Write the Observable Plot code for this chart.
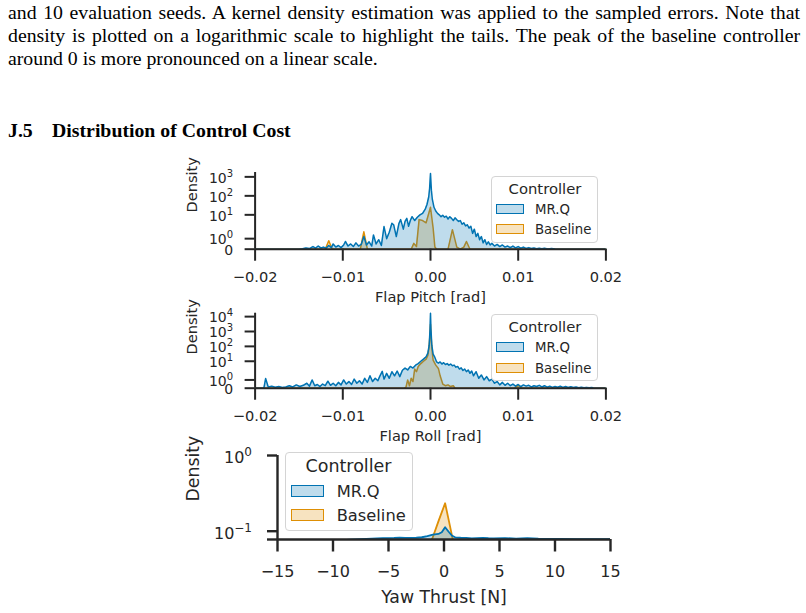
<!DOCTYPE html>
<html>
<head>
<meta charset="utf-8">
<script src="https://cdn.jsdelivr.net/npm/d3@7"></script>
<script src="https://cdn.jsdelivr.net/npm/@observablehq/plot@0.6"></script>
<style>
  html, body { margin: 0; padding: 0; background: #fff; }
  body { width: 806px; height: 613px; position: relative; overflow: hidden; }
  .para { position: absolute; left: 8px; width: 792px; font-family: "Liberation Serif", "Times New Roman", serif;
          font-size: 19.8px; line-height: 23.3px; color: #000; }
  .para .j { text-align: justify; text-align-last: justify; }
  .para .l { white-space: nowrap; }
  .head { position: absolute; left: 8px; font-family: "Liberation Serif", "Times New Roman", serif;
          font-size: 19.8px; line-height: 23.3px; font-weight: bold; white-space: nowrap; color: #000; }
  .panel { position: absolute; left: 0; }
  .legend { position: absolute; box-sizing: border-box; border: 1px solid #d4d4d4; border-radius: 4px;
            background: rgba(255,255,255,0.8); }
  .lg { position: absolute; font-family: "DejaVu Sans", sans-serif; color: #262626; white-space: nowrap;
        transform: translateY(-50%); }
  .sw { position: absolute; box-sizing: border-box; border-width: 1.5px; border-style: solid; }
</style>
</head>
<body>
<div class="para" style="top:0.5px">
  <div class="j">and 10 evaluation seeds. A kernel density estimation was applied to the sampled errors. Note that</div>
  <div class="j">density is plotted on a logarithmic scale to highlight the tails. The peak of the baseline controller</div>
  <div class="l">around 0 is more pronounced on a linear scale.</div>
</div>
<div class="head" style="top:119.2px"><span>J.5</span><span style="margin-left:19.3px">Distribution of Control Cost</span></div>

<div id="c1" class="panel" style="top:165px"></div>
<div id="c2" class="panel" style="top:305px"></div>
<div id="c3" class="panel" style="top:445px"></div>

<script>
// ---- series colours (seaborn colorblind palette) ----
const BLUE = "#0173B2";
const ORANGE = "#DE8F05";
const INK = "#262626";

const controllers = ["MR.Q", "Baseline"];

// ---- Flap Pitch [rad] : KDE density ----
const pitchMrqX = [-0.0200, -0.0150, -0.0146, -0.0142, -0.0138, -0.0134, -0.0131, -0.0128, -0.0125, -0.0122,
  -0.0119, -0.0116, -0.0113, -0.0111, -0.0108, -0.0105, -0.0102, -0.0099, -0.0097, -0.0094,
  -0.0091, -0.0088, -0.0085, -0.0082, -0.0079, -0.0076, -0.0073, -0.0070, -0.0067, -0.0065,
  -0.0062, -0.0059, -0.0056, -0.0053, -0.0050, -0.0047, -0.0044, -0.0042, -0.0039, -0.0036,
  -0.0034, -0.0031, -0.0029, -0.0027, -0.0025, -0.0023, -0.0021, -0.0018, -0.0015, -0.0012,
  -0.0009, -0.0006, -0.0004, -0.0002, -0.0001, 0, 0.0001, 0.0002, 0.0004, 0.0006,
  0.0008, 0.0010, 0.0012, 0.0014, 0.0016, 0.0018, 0.0020, 0.0022, 0.0024, 0.0026,
  0.0028, 0.0030, 0.0032, 0.0034, 0.0036, 0.0038, 0.0040, 0.0042, 0.0044, 0.0046,
  0.0048, 0.0050, 0.0052, 0.0054, 0.0056, 0.0058, 0.0060, 0.0062, 0.0064, 0.0066,
  0.0068, 0.0070, 0.0073, 0.0076, 0.0079, 0.0082, 0.0085, 0.0088, 0.0091, 0.0094,
  0.0097, 0.0100, 0.0103, 0.0106, 0.0109, 0.0112, 0.0115, 0.0118, 0.0121, 0.0124,
  0.0127, 0.0130, 0.0134, 0.0138, 0.0142, 0.0146, 0.0200];
const pitchMrqD = [0, 0, 0.05, 0.12, 0.06, 0.25, 0.1, 0.3, 0.12, 0.2,
  0.1, 0.35, 0.15, 0.5, 0.2, 0.35, 0.15, 0.4, 0.73, 0.3,
  0.5, 0.25, 0.6, 0.3, 0.45, 1.2, 0.4, 0.7, 0.3, 1.35,
  0.5, 0.9, 0.35, 2.4, 1.0, 1.6, 3.6, 3.0, 1.2, 3.5,
  5.6, 1.9, 4.5, 6.5, 2.5, 5.0, 8.0, 5.0, 7.5, 10,
  12, 20, 35, 90, 250, 1500, 200, 70, 25, 16,
  12, 10, 8, 9.5, 7.5, 8.5, 6, 8, 6.5, 5,
  7, 5.5, 4.5, 5, 3.2, 3.8, 2.6, 3.0, 2.0, 2.5,
  1.5, 1.9, 1.2, 1.5, 0.9, 1.2, 0.6, 0.9, 0.45, 0.7,
  0.4, 0.55, 0.3, 0.45, 0.25, 0.4, 0.2, 0.3, 0.15, 0.3,
  0.12, 0.25, 0.1, 0.2, 0.08, 0.15, 0.06, 0.12, 0.05, 0.1,
  0.04, 0.08, 0.03, 0.06, 0.02, 0, 0];
const pitchBaseX = [-0.0200, -0.0120, -0.0116, -0.0112, -0.0080, -0.0076, -0.0072, -0.0022, -0.0019, -0.0016,
  -0.0013, -0.0009, -0.0005, 0, 0.0003, 0.0005, 0.0007, 0.0020, 0.0025, 0.0030,
  0.0034, 0.0038, 0.0041, 0.0045, 0.0200];
const pitchBaseD = [0, 0, 0.8, 0, 0, 1.65, 0, 0, 0.55, 0.25,
  5.6, 5, 3.8, 25, 2, 0.2, 0, 0, 1.85, 0.2,
  0, 0.2, 0.73, 0, 0];

// ---- Flap Roll [rad] : KDE density ----
const rollMrqX = [-0.0200, -0.0190, -0.0188, -0.0185, -0.0181, -0.0177, -0.0173, -0.0169, -0.0165, -0.0161,
  -0.0157, -0.0153, -0.0149, -0.0145, -0.0141, -0.0138, -0.0135, -0.0132, -0.0129, -0.0126,
  -0.0123, -0.0120, -0.0117, -0.0114, -0.0111, -0.0108, -0.0105, -0.0102, -0.0099, -0.0096,
  -0.0093, -0.0090, -0.0087, -0.0084, -0.0081, -0.0078, -0.0075, -0.0072, -0.0069, -0.0066,
  -0.0063, -0.0060, -0.0058, -0.0055, -0.0053, -0.0050, -0.0047, -0.0044, -0.0041, -0.0038,
  -0.0035, -0.0032, -0.0029, -0.0026, -0.0023, -0.0020, -0.0017, -0.0014, -0.0011, -0.0008,
  -0.0005, -0.0003, -0.00015, -0.00005, 0, 0.00005, 0.00015, 0.0003, 0.0005, 0.0007,
  0.0009, 0.0011, 0.0013, 0.0015, 0.0017, 0.0019, 0.0021, 0.0023, 0.0025, 0.0027,
  0.0029, 0.0031, 0.0033, 0.0035, 0.0037, 0.0039, 0.0041, 0.0043, 0.0045, 0.0047,
  0.0049, 0.0052, 0.0055, 0.0058, 0.0061, 0.0064, 0.0067, 0.0070, 0.0073, 0.0076,
  0.0079, 0.0082, 0.0085, 0.0088, 0.0091, 0.0094, 0.0097, 0.0100, 0.0103, 0.0106,
  0.0109, 0.0112, 0.0115, 0.0118, 0.0121, 0.0124, 0.0127, 0.0130, 0.0133, 0.0136,
  0.0139, 0.0142, 0.0145, 0.0148, 0.0151, 0.0154, 0.0157, 0.0160, 0.0163, 0.0166,
  0.0169, 0.0172, 0.0175, 0.0178, 0.0181, 0.0184, 0.0186, 0.0200];
const rollMrqD = [0, 0, 1.17, 0.15, 0.25, 0.12, 0.2, 0.1, 0.15, 0.3,
  0.15, 0.4, 0.2, 0.35, 0.6, 0.25, 1.0, 0.3, 0.45, 0.2,
  0.5, 0.3, 0.85, 0.35, 0.6, 0.3, 0.7, 0.4, 1.0, 0.5,
  0.8, 0.45, 1.1, 0.6, 0.9, 0.5, 1.2, 0.7, 1.5, 0.8,
  1.2, 0.9, 1.4, 2.1, 1.1, 1.8, 1.2, 2.0, 1.5, 2.2,
  1.4, 2.5, 3.5, 2.6, 4.5, 3.5, 5.5, 7, 10, 14,
  20, 35, 120, 1500, 17000, 1500, 120, 30, 18, 9,
  7.5, 9, 6.5, 8, 6, 7, 5.5, 6.5, 5, 5.5,
  4, 4.5, 3, 3.6, 2.4, 3, 2, 2.6, 1.8, 2.2,
  1.5, 2.0, 1.2, 1.6, 1.0, 1.4, 0.9, 1.1, 0.6, 0.8,
  0.4, 0.7, 0.35, 0.6, 0.3, 0.5, 0.25, 0.45, 0.2, 0.4,
  0.25, 0.35, 0.15, 0.3, 0.2, 0.35, 0.15, 0.3, 0.12, 0.25,
  0.1, 0.2, 0.12, 0.25, 0.1, 0.2, 0.08, 0.18, 0.1, 0.15,
  0.06, 0.12, 0.05, 0.1, 0.05, 0.08, 0, 0];
const rollBaseX = [-0.0200, -0.0030, -0.0028, -0.0026, -0.0024, -0.0022, -0.0020, -0.0018, -0.0016, -0.0014,
  -0.0011, -0.0008, -0.0005, -0.0003, -0.00015, -0.00005, 0, 0.00005, 0.00015, 0.0003,
  0.0006, 0.0009, 0.0011, 0.0014, 0.0017, 0.0020, 0.0023, 0.0026, 0.0028, 0.0096,
  0.0100, 0.0104, 0.0200];
const rollBaseD = [0, 0, 0.1, 1.0, 0.3, 1.2, 0.8, 3.0, 2.0, 4.5,
  7, 10, 14, 25, 100, 800, 3000, 800, 80, 12,
  5.5, 3.3, 1.5, 0.5, 0.3, 0.4, 0.2, 0.3, 0, 0,
  0.35, 0, 0];

// ---- Yaw Thrust [N] : KDE density ----
const yawMrqX = [-15, -12, -10, -8.5, -7.5, -6.5, -5.5, -4.5, -4, -3.5,
  -2.5, -2, -1.5, -1, -0.5, -0.2, 0.1, 0.4, 0.7, 1,
  1.5, 2, 2.5, 3, 3.5, 4, 4.5, 5.5, 6.5, 7.5,
  8.5, 9.5, 10.5, 12, 13.5, 15];
const yawMrqD = [0.070, 0.073, 0.075, 0.0772, 0.0785, 0.0800, 0.0808, 0.0815, 0.0822, 0.0815,
  0.0820, 0.0832, 0.0860, 0.0900, 0.0920, 0.0970, 0.1130, 0.0990, 0.0880, 0.0830,
  0.0820, 0.0815, 0.0805, 0.0810, 0.0818, 0.0808, 0.0802, 0.0812, 0.0798, 0.0808,
  0.0795, 0.0792, 0.0790, 0.0788, 0.0786, 0.0784];
const yawBaseX = [-1.3, -1.05, -0.47, 0.1, 0.43, 0.77, 1.0];
const yawBaseD = [0.070, 0.080, 0.139, 0.234, 0.139, 0.080, 0.070];

// ---- axes ----
const errTicks = [-0.02, -0.01, 0, 0.01, 0.02];
const yawTicks = [-15, -10, -5, 0, 5, 10, 15];
// density tick labels written as mantissa + exponent
const pitchDensTicks = [0, 1, 10, 100, 1000];
const pitchDensBase = ["0", "10", "10", "10", "10"];
const pitchDensExp = ["", "0", "1", "2", "3"];
const rollDensTicks = [0, 1, 10, 100, 1000, 10000];
const rollDensBase = ["0", "10", "10", "10", "10", "10"];
const rollDensExp = ["", "0", "1", "2", "3", "4"];
const yawDensMin = 0.0777;
const yawDensTicks = [yawDensMin, 0.1, 1];
const yawDensBase = ["", "10", "10"];
const yawDensExp = ["", "−1", "0"];

// symmetric log (linear below 2, one decade per unit above it)
const linthresh = 2;
const linscaleAdj = 1 / (1 - 1 / 10);
function symlog(v) {
  const a = Math.abs(v);
  const t = a <= linthresh ? (a / linthresh) * linscaleAdj : linscaleAdj + Math.log10(a / linthresh);
  return Math.sign(v) * t;
}

const toRows = (xs, ds, f) => xs.map((x, i) => ({x, v: f(ds[i])}));

// approximate advance width of a DejaVu Sans string
const glyphW = (s, size) => Array.from(s).reduce((w, c) => w + (c === "−" ? 0.838 : 0.636), 0) * size;

// "10" plus raised exponent, right-aligned left of the y axis
function labelMarks(pos, base, exp, o) {
  const rows = pos.map((y, i) => ({y, base: base[i], exp: exp[i], shift: glyphW(exp[i], o.expSize)}));
  const marks = [];
  // mantissa: shifted left by its exponent's width (one mark per distinct shift)
  d3.group(rows, (d) => d.shift).forEach((group, shift) => {
    marks.push(Plot.text(group, {y: "y", text: "base", frameAnchor: "left", textAnchor: "end",
      dx: o.right - shift, dy: o.baseDy, fontSize: o.baseSize, fill: INK}));
  });
  marks.push(Plot.text(rows, {y: "y", text: "exp", frameAnchor: "left", textAnchor: "end",
    dx: o.right, dy: o.expDy, fontSize: o.expSize, fill: INK}));
  return marks;
}

function errPanel({el, mrqX, mrqD, baseX, baseD, yTop, dTicks, dBase, dExp, xLabel, height, marginTop, marginBottom, densDy}) {
  const mrq = toRows(mrqX, mrqD, symlog);
  const base = toRows(baseX, baseD, symlog);
  const tickPos = dTicks.map(symlog);
  const chart = Plot.plot({
    width: 806, height,
    marginLeft: 254.6, marginRight: 200.6, marginTop, marginBottom,
    style: {fontFamily: "DejaVu Sans, sans-serif", fontSize: "14.6px", color: INK, background: "transparent", overflow: "visible"},
    x: {domain: [-0.02, 0.02]},
    y: {domain: [0, yTop]},
    marks: [
      Plot.areaY(base, {x: "x", y1: 0, y2: "v", fill: ORANGE, fillOpacity: 0.25}),
      Plot.line(base, {x: "x", y: "v", stroke: ORANGE, strokeWidth: 1.5, strokeLinejoin: "round"}),
      Plot.areaY(mrq, {x: "x", y1: 0, y2: "v", fill: BLUE, fillOpacity: 0.25}),
      Plot.line(mrq, {x: "x", y: "v", stroke: BLUE, strokeWidth: 1.5, strokeLinejoin: "round"}),
      Plot.ruleY([0], {x1: -0.02, x2: 0.02, stroke: INK, strokeWidth: 2}),
      Plot.ruleX([-0.02], {y1: 0, y2: yTop, stroke: INK, strokeWidth: 2}),
      Plot.axisX({ticks: errTicks, tickFormat: d3.format(".2f"), tickSize: 12, tickPadding: 10.5, strokeWidth: 2, label: null}),
      Plot.axisY({ticks: tickPos, tickFormat: () => "", tickSize: 10, strokeWidth: 2, label: null}),
      ...labelMarks(tickPos, dBase, dExp, {right: -22, baseSize: 14, expSize: 10, baseDy: 1.2, expDy: -3.5}),
      Plot.text([xLabel], {text: (d) => d, frameAnchor: "bottom", dy: 52.5, fill: INK}),
      Plot.text(["Density"], {text: (d) => d, frameAnchor: "left", dx: -62.5, dy: densDy, rotate: -90, fill: INK})
    ]
  });
  document.getElementById(el).append(chart);
}

errPanel({el: "c1", mrqX: pitchMrqX, mrqD: pitchMrqD, baseX: pitchBaseX, baseD: pitchBaseD,
  yTop: 4.04, dTicks: pitchDensTicks, dBase: pitchDensBase, dExp: pitchDensExp, xLabel: "Flap Pitch [rad]",
  height: 140, marginTop: 7, marginBottom: 56.3, densDy: 1.7});
errPanel({el: "c2", mrqX: rollMrqX, mrqD: rollMrqD, baseX: rollBaseX, baseD: rollBaseD,
  yTop: 5.04, dTicks: rollDensTicks, dBase: rollDensBase, dExp: rollDensExp, xLabel: "Flap Roll [rad]",
  height: 140, marginTop: 7.7, marginBottom: 57.3, densDy: 3.8});

// Yaw thrust on a plain log density axis
{
  const floor = 0.01;
  const mrq = toRows(yawMrqX, yawMrqD, (d) => d);
  const base = toRows(yawBaseX, yawBaseD, (d) => d);
  const chart = Plot.plot({
    width: 806, height: 168,
    marginLeft: 277, marginRight: 196, marginTop: 10, marginBottom: 74,
    style: {fontFamily: "DejaVu Sans, sans-serif", fontSize: "16px", color: INK, background: "transparent", overflow: "visible"},
    x: {domain: [-15, 15]},
    y: {type: "log", domain: [yawDensMin, 1]},
    marks: [
      Plot.areaY(base, {x: "x", y1: floor, y2: "v", fill: ORANGE, fillOpacity: 0.25, clip: true}),
      Plot.line(base, {x: "x", y: "v", stroke: ORANGE, strokeWidth: 1.8, strokeLinejoin: "round", clip: true}),
      Plot.areaY(mrq, {x: "x", y1: floor, y2: "v", fill: BLUE, fillOpacity: 0.25, clip: true}),
      Plot.line(mrq, {x: "x", y: "v", stroke: BLUE, strokeWidth: 1.8, strokeLinejoin: "round", clip: true}),
      Plot.ruleY([yawDensMin], {x1: -15, x2: 15, stroke: INK, strokeWidth: 2.4}),
      Plot.ruleX([-15], {y1: yawDensMin, y2: 1, stroke: INK, strokeWidth: 2.4}),
      Plot.axisX({ticks: yawTicks, tickFormat: d3.format("d"), tickSize: 12.5, tickPadding: 14, strokeWidth: 2.4, label: null}),
      Plot.axisY({ticks: yawDensTicks, tickFormat: () => "", tickSize: 10, strokeWidth: 2.4, label: null}),
      ...labelMarks(yawDensTicks, yawDensBase, yawDensExp, {right: -25.5, baseSize: 16, expSize: 12, baseDy: 2.5, expDy: -3.5}),
      Plot.text(["Yaw Thrust [N]"], {text: (d) => d, frameAnchor: "bottom", dy: 63.5, fontSize: 17.3, fill: INK}),
      Plot.text(["Density"], {text: (d) => d, frameAnchor: "left", dx: -84.5, dy: 4, rotate: -90, fontSize: 17.3, fill: INK})
    ]
  });
  document.getElementById("c3").append(chart);
}

// ---- legends ----
function legend({left, top, width, height, titleX, titleY, rowY, swX, swW, swH, textX, titleSize, itemSize}) {
  const box = document.createElement("div");
  box.className = "legend";
  Object.assign(box.style, {left: left + "px", top: top + "px", width: width + "px", height: height + "px"});
  document.body.append(box);
  const title = document.createElement("div");
  title.className = "lg";
  title.textContent = "Controller";
  Object.assign(title.style, {left: titleX + "px", top: titleY + "px", fontSize: titleSize + "px",
    transform: "translate(-50%, -50%)"});
  document.body.append(title);
  const colors = [BLUE, ORANGE];
  controllers.forEach((name, i) => {
    const sw = document.createElement("div");
    sw.className = "sw";
    const c = d3.color(colors[i]);
    Object.assign(sw.style, {left: swX + "px", top: (rowY[i] - swH / 2) + "px", width: swW + "px", height: swH + "px",
      borderColor: colors[i], background: `rgba(${c.r},${c.g},${c.b},0.25)`});
    document.body.append(sw);
    const t = document.createElement("div");
    t.className = "lg";
    t.textContent = name;
    Object.assign(t.style, {left: textX + "px", top: rowY[i] + "px", fontSize: itemSize + "px"});
    document.body.append(t);
  });
}

legend({left: 490.7, top: 176, width: 107.6, height: 67.3, titleX: 545, titleY: 187.7, rowY: [208.7, 229.3],
  swX: 496, swW: 28, swH: 10, textX: 535, titleSize: 14.8, itemSize: 13.3});
legend({left: 490.7, top: 314, width: 107.6, height: 66.7, titleX: 545, titleY: 326.3, rowY: [347.3, 368],
  swX: 496, swW: 28, swH: 10, textX: 535, titleSize: 14.8, itemSize: 13.3});
legend({left: 285, top: 451.7, width: 127.7, height: 79, titleX: 348.5, titleY: 466, rowY: [491, 515],
  swX: 290.7, swW: 33.3, swH: 11.7, textX: 336.7, titleSize: 17.5, itemSize: 16.3});
</script>
</body>
</html>
